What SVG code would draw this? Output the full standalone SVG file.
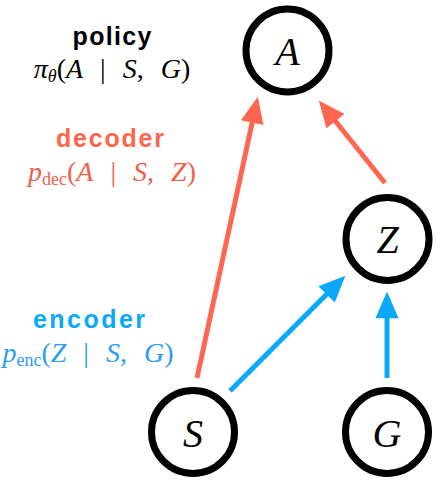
<svg xmlns="http://www.w3.org/2000/svg" width="437" height="482" viewBox="0 0 437 482">
<style>
.node circle{fill:#fff;stroke:#000;stroke-width:7}
.nl{font-family:"Liberation Serif",serif;font-style:italic;font-size:40px;text-anchor:middle;fill:#000}
.hd{font-family:"Liberation Sans",Arial,sans-serif;font-weight:bold;font-size:25px;text-anchor:middle}
.m{font-family:"Liberation Serif",serif;font-size:28px;text-anchor:middle;word-spacing:10px}
.i{font-style:italic}
.sub{font-size:18px}
.red{stroke:#FF6650;stroke-width:5;fill:none}
.blue{stroke:#0AA8F8;stroke-width:5;fill:none}
</style>
<defs>
<marker id="hr" markerUnits="userSpaceOnUse" markerWidth="30" markerHeight="30" refX="0" refY="0" viewBox="-2 -12 26 24" orient="auto" overflow="visible"><path d="M-1,-10 L22,0 L-1,10 z" fill="#FF6650"/></marker>
<marker id="hb" markerUnits="userSpaceOnUse" markerWidth="30" markerHeight="30" refX="0" refY="0" viewBox="-2 -12 26 24" orient="auto" overflow="visible"><path d="M-1,-10 L22,0 L-1,10 z" fill="#0AA8F8"/></marker>
</defs>
<g id="labels">
<text class="hd" x="112" y="45" fill="#000" textLength="79" lengthAdjust="spacing">policy</text>
<text class="m" x="112" y="78" fill="#000"><tspan class="i">π</tspan><tspan class="i sub" dy="4">θ</tspan><tspan dy="-4">(</tspan><tspan class="i">A</tspan> | <tspan class="i">S</tspan>, <tspan class="i">G</tspan>)</text>
<text class="hd" x="110" y="147" fill="#FF6650" textLength="108" lengthAdjust="spacing">decoder</text>
<text class="m" x="112" y="181" fill="#F0604C"><tspan class="i">p</tspan><tspan class="sub" dy="4">dec</tspan><tspan dy="-4">(</tspan><tspan class="i">A</tspan> | <tspan class="i">S</tspan>, <tspan class="i">Z</tspan>)</text>
<text class="hd" x="89" y="328" fill="#0AA8F8" textLength="112" lengthAdjust="spacing">encoder</text>
<text class="m" x="88" y="362" fill="#2A9CF2"><tspan class="i">p</tspan><tspan class="sub" dy="4">enc</tspan><tspan dy="-4">(</tspan><tspan class="i">Z</tspan> | <tspan class="i">S</tspan>, <tspan class="i">G</tspan>)</text>
</g>
<g id="connectors">
<line class="red" x1="197" y1="378" x2="252.4" y2="121.5" marker-end="url(#hr)"/>
<line class="red" x1="385" y1="183" x2="334.7" y2="120.2" marker-end="url(#hr)"/>
<line class="blue" x1="230" y1="391" x2="327.4" y2="293.6" marker-end="url(#hb)"/>
<line class="blue" x1="387" y1="378" x2="387" y2="317" marker-end="url(#hb)"/>
</g>
<g id="node-A" class="node"><circle cx="287.5" cy="50.5" r="41.5"/><text class="nl" x="287.5" y="65">A</text></g>
<g id="node-Z" class="node"><circle cx="387.5" cy="239" r="41.5"/><text class="nl" x="387.5" y="253">Z</text></g>
<g id="node-S" class="node"><circle cx="193" cy="432" r="41.5"/><text class="nl" x="193" y="447">S</text></g>
<g id="node-G" class="node"><circle cx="387" cy="432" r="41.5"/><text class="nl" x="387" y="447">G</text></g>
</svg>
